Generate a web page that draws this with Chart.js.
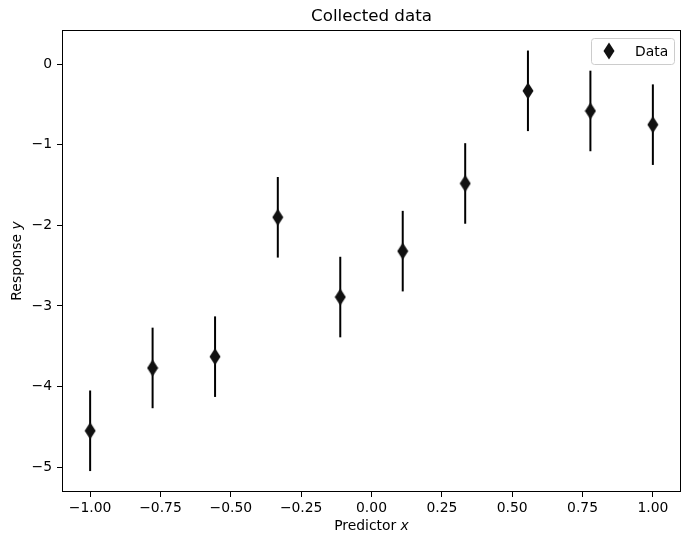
<!DOCTYPE html>
<html>
<head>
<meta charset="utf-8">
<script src="https://cdn.jsdelivr.net/npm/chart.js@4/dist/chart.umd.min.js"></script>
<style>
  html, body { margin: 0; padding: 0; background: #fff; }
  canvas { display: block; }
</style>
</head>
<body>
<canvas id="grafico" width="690" height="546"></canvas>
<script>
// data
var xValues = [-1.0, -0.778, -0.556, -0.333, -0.111, 0.111, 0.333, 0.556, 0.778, 1.0];
var yValues = [-4.55, -3.77, -3.63, -1.90, -2.89, -2.32, -1.48, -0.33, -0.58, -0.75];
var yErr = [0.5, 0.5, 0.5, 0.5, 0.5, 0.5, 0.5, 0.5, 0.5, 0.5];
var xTicks = [-1.0, -0.75, -0.5, -0.25, 0.0, 0.25, 0.5, 0.75, 1.0];
var yTicks = [-5, -4, -3, -2, -1, 0];
var serieLabel = 'Data';

var FONT = 'DejaVu Sans';

var punti = [];
for (var i = 0; i < xValues.length; i++) {
    punti.push({ x: xValues[i], y: yValues[i] });
}

// thin diamond marker
var diamante = document.createElement('canvas');
diamante.width = 12;
diamante.height = 18;
var dctx = diamante.getContext('2d');
dctx.fillStyle = '#111111';
dctx.beginPath();
dctx.moveTo(6, 0.5);
dctx.lineTo(11.5, 9);
dctx.lineTo(6, 17.5);
dctx.lineTo(0.5, 9);
dctx.closePath();
dctx.fill();

function meno(s) {
    return String(s).replace('-', '\u2212');
}

var plugin = {
    id: 'extra',
    beforeDatasetsDraw: function (chart) {
        var c = chart.ctx;
        var xs = chart.scales.x, ys = chart.scales.y;
        c.save();
        c.strokeStyle = '#000';
        c.lineWidth = 2;
        for (var i = 0; i < xValues.length; i++) {
            var px = xs.getPixelForValue(xValues[i]);
            c.beginPath();
            c.moveTo(px, ys.getPixelForValue(yValues[i] + yErr[i]));
            c.lineTo(px, ys.getPixelForValue(yValues[i] - yErr[i]));
            c.stroke();
        }
        c.restore();
    },
    afterDraw: function (chart) {
        var c = chart.ctx;
        var a = chart.chartArea;
        c.save();
        // axes frame
        c.strokeStyle = '#000';
        c.lineWidth = 1;
        c.strokeRect(Math.round(a.left) + 0.5, Math.round(a.top) + 0.5,
            Math.round(a.right - a.left) - 1, Math.round(a.bottom - a.top) - 1);

        // title
        c.fillStyle = '#000';
        c.font = '16.7px "' + FONT + '"';
        c.textAlign = 'center';
        c.textBaseline = 'middle';
        c.fillText('Collected data', (a.left + a.right) / 2, 17);

        // x label with italic x
        var t1 = 'Predictor ';
        c.font = '13.9px "' + FONT + '"';
        var w1 = c.measureText(t1).width;
        c.font = 'italic 13.9px "' + FONT + '"';
        var w2 = c.measureText('x').width;
        var sx = (a.left + a.right) / 2 - (w1 + w2) / 2;
        c.textAlign = 'left';
        c.font = '13.9px "' + FONT + '"';
        c.fillText(t1, sx, 526);
        c.font = 'italic 13.9px "' + FONT + '"';
        c.fillText('x', sx + w1, 526);

        // y label rotated
        c.save();
        c.translate(17, (a.top + a.bottom) / 2);
        c.rotate(-Math.PI / 2);
        c.font = '13.9px "' + FONT + '"';
        var r1 = 'Response ';
        var rw1 = c.measureText(r1).width;
        c.font = 'italic 13.9px "' + FONT + '"';
        var rw2 = c.measureText('y').width;
        var rx = -(rw1 + rw2) / 2;
        c.font = '13.9px "' + FONT + '"';
        c.fillText(r1, rx, 0);
        c.font = 'italic 13.9px "' + FONT + '"';
        c.fillText('y', rx + rw1, 0);
        c.restore();

        // legend
        var lx = a.right - 90, ly = a.top + 8, lw = 83, lh = 26;
        c.fillStyle = 'rgba(255,255,255,0.8)';
        c.strokeStyle = '#cccccc';
        c.lineWidth = 1;
        c.beginPath();
        c.roundRect(lx + 0.5, ly + 0.5, lw, lh, 3);
        c.fill();
        c.stroke();
        c.drawImage(diamante, lx + 18 - 6, ly + 13 - 9);
        c.fillStyle = '#000';
        c.font = '13.9px "' + FONT + '"';
        c.textAlign = 'left';
        c.textBaseline = 'middle';
        c.fillText(chart.data.datasets[0].label, lx + 44, ly + 14);
        c.restore();
    }
};

var ctx = document.getElementById('grafico');
var chart = new Chart(ctx, {
    type: 'scatter',
    data: {
        datasets: [{
            label: serieLabel,
            data: punti,
            pointStyle: diamante,
            backgroundColor: '#111111',
            borderColor: '#111111'
        }]
    },
    options: {
        responsive: false,
        animation: false,
        layout: { padding: { left: 0, top: 30, right: 9, bottom: 0 } },
        plugins: {
            legend: { display: false },
            tooltip: { enabled: false }
        },
        scales: {
            x: {
                type: 'linear',
                min: -1.1,
                max: 1.1,
                afterBuildTicks: function (scale) {
                    scale.ticks = xTicks.map(function (v) { return { value: v }; });
                },
                afterFit: function (scale) { scale.height = 54; },
                grid: { drawOnChartArea: false, tickLength: 5, tickColor: '#000', tickWidth: 1 },
                border: { display: false },
                ticks: {
                    color: '#000',
                    padding: 3,
                    maxRotation: 0,
                    autoSkip: false,
                    font: { family: FONT, size: 13.9 },
                    callback: function (v) { return meno(Number(v).toFixed(2)); }
                }
            },
            y: {
                type: 'linear',
                min: -5.31,
                max: 0.425,
                afterBuildTicks: function (scale) {
                    scale.ticks = yTicks.map(function (v) { return { value: v }; });
                },
                afterFit: function (scale) { scale.width = 62; },
                grid: { drawOnChartArea: false, tickLength: 5, tickColor: '#000', tickWidth: 1 },
                border: { display: false },
                ticks: {
                    color: '#000',
                    padding: 5,
                    autoSkip: false,
                    font: { family: FONT, size: 13.9 },
                    callback: function (v) { return meno(v); }
                }
            }
        }
    },
    plugins: [plugin]
});
</script>
</body>
</html>
